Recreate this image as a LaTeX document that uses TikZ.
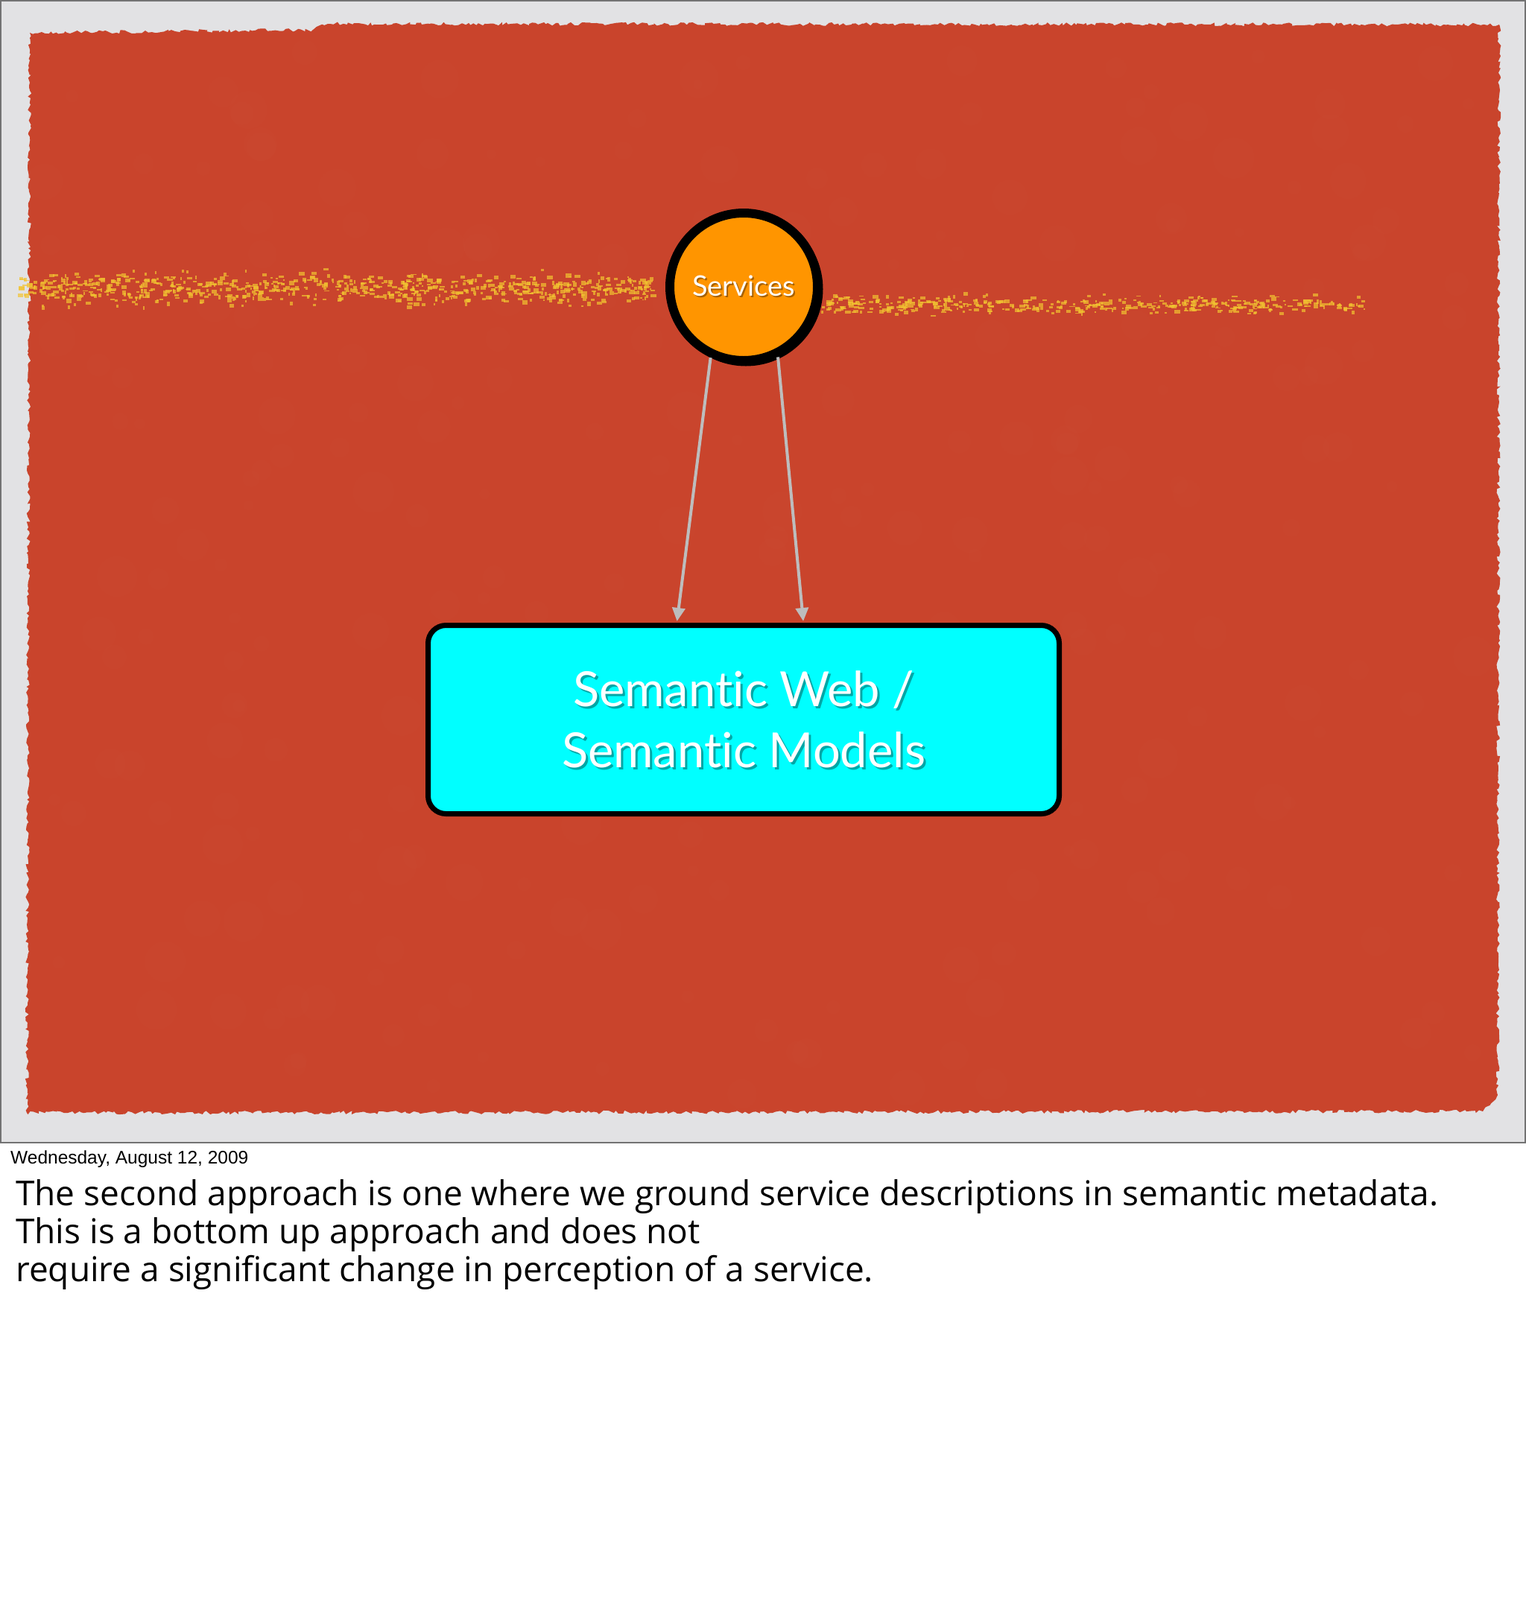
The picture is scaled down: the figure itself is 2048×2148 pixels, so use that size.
\documentclass[tikz,border=0pt]{standalone}
\usepackage{fontspec}
\setmainfont{Lato}[Ligatures=NoCommon]
\newfontfamily\helv{Liberation Sans}
\newfontfamily\notesfont{Open Sans}
\usetikzlibrary{decorations.pathmorphing,arrows.meta,calc}
\definecolor{slidebg}{HTML}{E2E2E4}
\definecolor{paper}{HTML}{C9442C}
\definecolor{paperlight}{HTML}{D55A3E}
\definecolor{chalk}{HTML}{F2C431}
\definecolor{svcorange}{HTML}{FF9500}
\definecolor{cyanbox}{HTML}{00FFFF}
\definecolor{arrowgray}{HTML}{BDBDBD}
\tikzset{
  conn/.style={draw=arrowgray, line width=4pt, -{Triangle[width=17pt,length=18pt]}, shorten >=2pt},
  whitetext/.style={text=white, inner sep=0},
  shadowtext/.style={text=black, opacity=0.35, inner sep=0},
  notetext/.style={anchor=base west, inner sep=0, text=black},
}
\begin{document}
\begin{tikzpicture}[x=1pt,y=-1pt]
\useasboundingbox (0,0) rectangle (2048,2148);
% page and slide
\fill[white] (0,0) rectangle (2048,2148);
\fill[slidebg] (0,0) rectangle (2048,1535);
% red paper with rough edges
\fill[paper, decorate, decoration={random steps, segment length=4pt, amplitude=2.5pt}]
  (40,44) -- (420,40) -- (440,32) -- (2012,33) -- (2010,1470) -- (1990,1492) -- (36,1494) -- cycle;
\pgfmathsetseed{7}
\foreach \i in {1,...,260}{
  \pgfmathsetmacro\xx{60+rnd*1920}
  \pgfmathsetmacro\yy{60+rnd*1410}
  \pgfmathsetmacro\rr{6+rnd*22}
  \fill[paperlight, opacity=0.07] (\xx,\yy) circle[radius=\rr pt];
}
% chalk streak, left part
\pgfmathsetseed{42}
\foreach \i in {1,...,750}{
  \pgfmathsetmacro\xx{24+rnd*850}
  \pgfmathsetmacro\yy{386+(rnd+rnd+rnd-1.5)*20}
  \pgfmathsetmacro\ww{2+rnd*6}
  \pgfmathsetmacro\hh{1.5+rnd*4}
  \fill[chalk, opacity=0.7] (\xx,\yy) rectangle ++(\ww,\hh);
}
% chalk streak, right part
\foreach \i in {1,...,420}{
  \pgfmathsetmacro\xx{1100+rnd*730}
  \pgfmathsetmacro\yy{408+(rnd+rnd+rnd-1.5)*12}
  \pgfmathsetmacro\ww{2+rnd*6}
  \pgfmathsetmacro\hh{1.5+rnd*3.5}
  \fill[chalk, opacity=0.7] (\xx,\yy) rectangle ++(\ww,\hh);
}
% slide frame
\draw[black!55, line width=2pt] (1,1) rectangle (2047,1534);
% Services circle
\node[circle, draw=black, line width=12pt, fill=svcorange, minimum size=198pt, inner sep=0] (svc) at (998,385) {};
\draw[black, line width=5pt] ([xshift=3pt,yshift=-3pt]svc.center) circle[radius=101pt];
\node[shadowtext, font=\fontsize{38}{44}\selectfont] (svcshadow) at (1000,386) {Services};
\node[whitetext, font=\fontsize{38}{44}\selectfont] (svclabel) at (998,384) {Services};
% Semantic box
\node[draw=black, line width=7pt, fill=cyanbox, rounded corners=24pt, minimum width=847pt, minimum height=253pt, inner sep=0] (box) at (998,966) {};
\node[shadowtext, align=center, font=\fontsize{65}{82}\selectfont] (boxshadow) at (1001,969) {Semantic Web /\\Semantic Models};
\node[whitetext, align=center, font=\fontsize{65}{82}\selectfont] (boxlabel) at (998,966) {Semantic Web /\\Semantic Models};
% connectors
\draw[conn] (svc.245) -- ($(box.north west)!0.395!(box.north east)$);
\draw[conn] (svc.296) -- ($(box.north west)!0.594!(box.north east)$);
% notes
\node[notetext, font=\helv\fontsize{24.5}{28}\selectfont] (date) at (14,1562) {Wednesday, August 12, 2009};
\node[notetext, font=\notesfont\fontsize{46}{51}\selectfont] (note1) at (21,1618) {The second approach is one where we ground service descriptions in semantic metadata.};
\node[notetext, font=\notesfont\fontsize{46}{51}\selectfont] (note2) at (21,1669) {This is a bottom up approach and does not};
\node[notetext, font=\notesfont\fontsize{46}{51}\selectfont] (note3) at (21,1720) {require a significant change in perception of a service.};
\end{tikzpicture}
\end{document}
